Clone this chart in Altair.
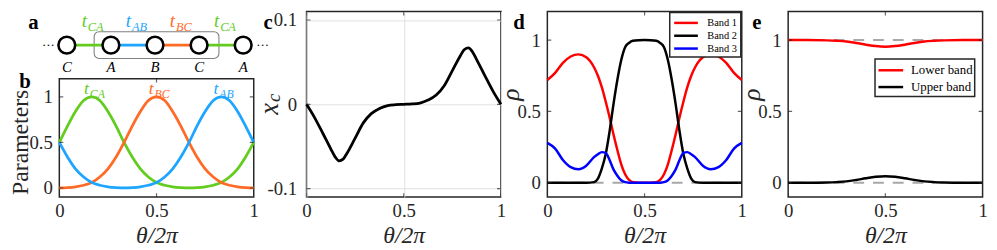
import altair as alt
import pandas as pd

SERIF = "Liberation Serif"
INK = "#262626"
GREEN = "#62CC1F"
BLUE = "#1DA5FF"
ORANGE = "#FF6A26"

# ---------------- (a) schematic chain ----------------
site_pos = [0, 1, 2, 3, 4]
site_names = ["C", "A", "B", "C", "A"]
bond_from = [0, 1, 2, 3]
bond_to = [1, 2, 3, 4]
bond_subs = ["CA", "AB", "BC", "CA"]
bond_colors = [GREEN, BLUE, ORANGE, GREEN]
ellipsis_pos = [-0.42, 4.44]
cell_x = [0.62, 3.45]
cell_y = [-0.75, 0.75]
row_bond_label = 1.0
row_site = 0.0
row_site_label = -1.25

# ---------------- (b) hopping parameters ----------------
theta_b = [0.0, 0.042, 0.083, 0.125, 0.167, 0.208, 0.25, 0.292, 0.333, 0.375, 0.417, 0.458,
           0.5, 0.542, 0.583, 0.625, 0.667, 0.708, 0.75, 0.792, 0.833, 0.875, 0.917, 0.958, 1.0]
t_CA = [0.50, 0.68, 0.84, 0.96, 1.00, 0.96, 0.84, 0.68, 0.50, 0.34, 0.21, 0.12, 0.06,
        0.03, 0.013, 0.005, 0.002, 0.005, 0.013, 0.03, 0.06, 0.12, 0.21, 0.34, 0.50]
t_BC = [0.002, 0.005, 0.013, 0.03, 0.06, 0.12, 0.21, 0.34, 0.50, 0.68, 0.84, 0.96, 1.00,
        0.96, 0.84, 0.68, 0.50, 0.34, 0.21, 0.12, 0.06, 0.03, 0.013, 0.005, 0.002]
t_AB = [0.50, 0.34, 0.21, 0.12, 0.06, 0.03, 0.013, 0.005, 0.002, 0.005, 0.013, 0.03, 0.06,
        0.12, 0.21, 0.34, 0.50, 0.68, 0.84, 0.96, 1.00, 0.96, 0.84, 0.68, 0.50]
peak_pos = [0.167, 0.5, 0.833]
peak_subs = ["CA", "BC", "AB"]
peak_colors = [GREEN, ORANGE, BLUE]
peak_label_y = 1.035

# ---------------- (c) x_c ----------------
theta_c = [0.0, 0.042, 0.083, 0.125, 0.146, 0.167, 0.188, 0.208, 0.25, 0.292, 0.333, 0.375,
           0.417, 0.458, 0.5, 0.542, 0.583, 0.625, 0.667, 0.708, 0.75, 0.792, 0.812, 0.833,
           0.854, 0.875, 0.917, 0.958, 1.0]
x_c = [0.0, -0.016, -0.034, -0.053, -0.062, -0.067, -0.065, -0.058, -0.040, -0.022, -0.011,
       -0.005, -0.0015, -0.0004, 0.0, 0.0004, 0.0015, 0.005, 0.011, 0.022, 0.040, 0.058, 0.065,
       0.067, 0.062, 0.053, 0.034, 0.016, 0.0]

# ---------------- (d) three bands ----------------
theta_d = [0.0, 0.04, 0.08, 0.12, 0.16, 0.20, 0.24, 0.26, 0.28, 0.30, 0.32, 0.34, 0.36, 0.38,
           0.40, 0.42, 0.44, 0.47, 0.50, 0.53, 0.56, 0.58, 0.60, 0.62, 0.64, 0.66, 0.68, 0.70,
           0.72, 0.74, 0.76, 0.80, 0.84, 0.88, 0.92, 0.96, 1.0]
band1 = [0.72, 0.77, 0.84, 0.885, 0.90, 0.88, 0.81, 0.75, 0.67, 0.57, 0.46, 0.34, 0.23, 0.13,
         0.06, 0.02, 0.005, 0.001, 0.0, 0.001, 0.005, 0.02, 0.06, 0.13, 0.23, 0.34, 0.46, 0.57,
         0.67, 0.75, 0.81, 0.88, 0.90, 0.885, 0.84, 0.77, 0.72]
band2 = [0.0, 0.0, 0.0, 0.0, 0.0, 0.0, 0.005, 0.03, 0.10, 0.20, 0.36, 0.55, 0.72, 0.86,
         0.95, 0.98, 0.995, 0.999, 1.0, 0.999, 0.995, 0.98, 0.95, 0.86, 0.72, 0.55, 0.36, 0.20,
         0.10, 0.03, 0.005, 0.0, 0.0, 0.0, 0.0, 0.0, 0.0]
band3 = [0.28, 0.24, 0.16, 0.11, 0.095, 0.12, 0.18, 0.20, 0.215, 0.21, 0.16, 0.094, 0.05, 0.018,
         0.005, 0.001, 0.0, 0.0, 0.0, 0.0, 0.0, 0.001, 0.005, 0.018, 0.05, 0.094, 0.16, 0.21,
         0.215, 0.20, 0.18, 0.12, 0.095, 0.11, 0.16, 0.24, 0.28]
band_names = ["Band 1", "Band 2", "Band 3"]
band_colors = ["#ff0000", "#000000", "#0000ff"]

# ---------------- (e) two bands ----------------
theta_e = [0.0, 0.1, 0.2, 0.25, 0.3, 0.35, 0.4, 0.45, 0.5, 0.55, 0.6, 0.65, 0.7, 0.75, 0.8, 0.9, 1.0]
lower = [1.0, 1.0, 0.998, 0.995, 0.99, 0.98, 0.968, 0.958, 0.954, 0.958, 0.968, 0.98, 0.99,
         0.995, 0.998, 1.0, 1.0]
upper = [0.0, 0.0, 0.002, 0.005, 0.01, 0.02, 0.032, 0.042, 0.046, 0.042, 0.032, 0.02, 0.01,
         0.005, 0.002, 0.0, 0.0]
e_names = ["Lower band", "Upper band"]
e_colors = ["#ff0000", "#000000"]
ref_d = [0.0]
ref_e = [0.0, 1.0]

# ---------------- layout constants ----------------
W = 197
H = 188
HA = 62
GAP_AB = 6
HB = H - HA - GAP_AB
YD = [-0.1, 1.2]
YC = [-0.11, 0.11]


def X(axis=alt.Undefined):
    return alt.X("x:Q", scale=alt.Scale(domain=[0, 1], nice=False, zero=False), axis=axis)


def Y(dom, axis=alt.Undefined):
    return alt.Y("y:Q", scale=alt.Scale(domain=dom, nice=False, zero=False), axis=axis)


def x_axis(grid=False):
    return alt.Axis(values=[0, 0.5, 1], labelExpr="toString(datum.value)", labelFlush=False,
                    title="θ/2π", titleFontStyle="italic", titleFontSize=24, titlePadding=3,
                    labelPadding=5, labelFontSize=19, ticks=False, domain=False,
                    grid=grid, gridColor="#e1e1e1", gridWidth=1)


def y_axis(values, title, tx, ty, style="italic", grid=False, pad=7, tsize=26):
    return alt.Axis(values=values, labelExpr="toString(datum.value)", title=title,
                    titleFontStyle=style, titleFontSize=tsize, titleX=tx, titleY=ty,
                    titleAngle=270, titleAlign="center", titleBaseline="middle",
                    labelPadding=pad, labelFontSize=19, ticks=False, domain=False, grid=grid,
                    gridColor="#e1e1e1")


def letter_axis(s, dx, dy):
    # panel letter: title of a label-less top axis, placed at the frame's top-left corner
    return alt.Axis(orient="top", labels=False, ticks=False, domain=False, grid=False, title=s,
                    titleX=dx, titleY=dy, titleAlign="left", titleBaseline="alphabetic",
                    titleAngle=0, titleFontSize=21, titleFontWeight="bold",
                    titleFontStyle="normal", titleColor="black")


def frame_ticks(dom, yvals, let_axis, yaxis_h=alt.Undefined, yaxis_v=alt.Undefined):
    hdf = pd.DataFrame({"x": [0.0] * len(yvals) + [1.0] * len(yvals), "y": list(yvals) * 2})
    vdf = pd.DataFrame({"x": [0.0, 0.5, 1.0] * 2, "y": [dom[0]] * 3 + [dom[1]] * 3})
    h = alt.Chart(hdf).mark_tick(orient="horizontal", size=8, thickness=1.2, color=INK,
                                 clip=True).encode(x=X(None), y=Y(dom, yaxis_h))
    v = alt.Chart(vdf).mark_tick(orient="vertical", size=8, thickness=1.2, color=INK,
                                 clip=True).encode(x=X(let_axis), y=Y(dom, yaxis_v))
    return [h, v]


FRAME = alt.ViewBackground(stroke=INK, strokeWidth=1.5)

# ---------------- panel a ----------------
AX = alt.Scale(domain=[-0.17, 4.24], nice=False, zero=False)
AY = alt.Scale(domain=[-1.556, 1.889], nice=False, zero=False)

cell_df = pd.DataFrame({"x": [cell_x[0]], "x2": [cell_x[1]], "y": [cell_y[0]], "y2": [cell_y[1]]})
bond_df = pd.DataFrame({"x": bond_from, "x2": bond_to, "y": [row_site] * 4, "col": bond_colors,
                        "mid": [(f + t) / 2 for f, t in zip(bond_from, bond_to)],
                        "ly": [row_bond_label] * 4, "main": ["t"] * 4, "sub": bond_subs})
site_df = pd.DataFrame({"x": site_pos, "y": [row_site] * 5, "name": site_names,
                        "ly": [row_site_label] * 5})
dots_df = pd.DataFrame({"x": ellipsis_pos, "y": [row_site] * 2, "label": ["···", "···"]})

a_cell = alt.Chart(cell_df).mark_rect(fill="white", fillOpacity=0, stroke="#808080",
                                      strokeWidth=1.1, cornerRadius=5).encode(
    x=alt.X("x:Q", scale=AX, axis=letter_axis("a", -32, 17)), x2="x2:Q",
    y=alt.Y("y:Q", scale=AY, axis=None), y2="y2:Q")
a_bonds = alt.Chart(bond_df).mark_rule(strokeWidth=3).encode(
    x=alt.X("x:Q", scale=AX, axis=None), x2="x2:Q",
    y=alt.Y("y:Q", scale=AY, axis=None), color=alt.Color("col:N", scale=None))
a_nodes = alt.Chart(site_df).mark_point(shape="circle", filled=True, fill="white", stroke="black",
                                        strokeWidth=2.6, size=289, opacity=1).encode(
    x=alt.X("x:Q", scale=AX, axis=None), y=alt.Y("y:Q", scale=AY, axis=None))
a_sites = alt.Chart(site_df).mark_text(font=SERIF, fontSize=15, fontStyle="italic",
                                       baseline="middle", color="black").encode(
    x=alt.X("x:Q", scale=AX, axis=None), y=alt.Y("ly:Q", scale=AY, axis=None), text="name:N")
a_dots = alt.Chart(dots_df).mark_text(font=SERIF, fontSize=13, baseline="middle",
                                      color="black").encode(
    x=alt.X("x:Q", scale=AX, axis=None), y=alt.Y("y:Q", scale=AY, axis=None), text="label:N")
a_t = alt.Chart(bond_df).mark_text(font=SERIF, fontSize=19, fontStyle="italic", align="right",
                                   baseline="alphabetic", dx=-2).encode(
    x=alt.X("mid:Q", scale=AX, axis=None), y=alt.Y("ly:Q", scale=AY, axis=None),
    text="main:N", color=alt.Color("col:N", scale=None))
a_sub = alt.Chart(bond_df).mark_text(font=SERIF, fontSize=12.5, fontStyle="italic", align="left",
                                     baseline="alphabetic", dx=-1, dy=4).encode(
    x=alt.X("mid:Q", scale=AX, axis=None), y=alt.Y("ly:Q", scale=AY, axis=None),
    text="sub:N", color=alt.Color("col:N", scale=None))

panel_a = alt.layer(a_cell, a_bonds, a_nodes, a_sites, a_dots, a_t, a_sub
                    ).resolve_axis(x="independent").properties(
    width=W, height=HA, view=alt.ViewBackground(stroke="transparent"))

# ---------------- panel b ----------------
nb = len(theta_b)
b_df = pd.DataFrame({"x": theta_b * 3, "y": t_CA + t_BC + t_AB,
                     "series": ["CA"] * nb + ["BC"] * nb + ["AB"] * nb,
                     "col": [GREEN] * nb + [ORANGE] * nb + [BLUE] * nb})
b_lab = pd.DataFrame({"x": peak_pos, "y": [peak_label_y] * 3, "main": ["t"] * 3,
                      "sub": peak_subs, "col": peak_colors})
b_lines = alt.Chart(b_df).mark_line(strokeWidth=2.8, interpolate="monotone").encode(
    x=X(x_axis()),
    y=Y(YD, y_axis([0, 0.5, 1], "Parameters", -39, HB / 2 + 4, style="normal", tsize=24)),
    color=alt.Color("col:N", scale=None), detail="series:N")
b_t = alt.Chart(b_lab).mark_text(font=SERIF, fontSize=18, fontStyle="italic", align="right",
                                 baseline="alphabetic", dx=-3).encode(
    x=X(None), y=Y(YD), text="main:N", color=alt.Color("col:N", scale=None))
b_sub = alt.Chart(b_lab).mark_text(font=SERIF, fontSize=12, fontStyle="italic", align="left",
                                   baseline="alphabetic", dx=-2, dy=4).encode(
    x=X(None), y=Y(YD), text="sub:N", color=alt.Color("col:N", scale=None))
panel_b = alt.layer(b_lines, b_t, b_sub,
                    *frame_ticks(YD, [0, 0.5, 1], letter_axis("b", -41, 9))
                    ).resolve_axis(x="independent").properties(width=W, height=HB, view=FRAME)

# ---------------- panel c ----------------
c_df = pd.DataFrame({"x": theta_c, "y": x_c})
c_main_axis = y_axis([-0.1, 0, 0.1], "x", -37, H / 2 + 4, grid=True, pad=10, tsize=27)
c_sub_axis = alt.Axis(orient="left", title="c", titleFontStyle="italic", titleFontSize=19,
                      titleX=-33, titleY=H / 2 - 7, titleAngle=270, titleAlign="center",
                      titleBaseline="middle", labels=False, ticks=False, domain=False,
                      grid=False)
c_line = alt.Chart(c_df).mark_line(color="black", strokeWidth=2.8, interpolate="monotone").encode(
    x=X(x_axis(grid=True)), y=Y(YC, c_main_axis))
panel_c = alt.layer(c_line, *frame_ticks(YC, [-0.1, 0, 0.1], letter_axis("c", -44, 17),
                                         yaxis_h=c_sub_axis, yaxis_v=None)
                    ).resolve_axis(x="independent", y="independent").properties(
    width=W, height=H, view=FRAME)

# ---------------- panel d ----------------
nd = len(theta_d)
d_df = pd.DataFrame({"x": theta_d * 3, "y": band1 + band2 + band3,
                     "band": [band_names[0]] * nd + [band_names[1]] * nd + [band_names[2]] * nd})
d_ref = alt.Chart(pd.DataFrame({"y": ref_d})).mark_rule(
    color="#a8a8a8", strokeWidth=2, strokeDash=[11, 9]).encode(y=Y(YD))
d_lines = alt.Chart(d_df).mark_line(strokeWidth=2.5, interpolate="monotone").encode(
    x=X(x_axis()), y=Y(YD, y_axis([0, 0.5, 1], "ρ", -37, H * 0.445)),
    color=alt.Color("band:N", scale=alt.Scale(domain=band_names, range=band_colors),
                    legend=alt.Legend(title=None, orient="top-right", offset=1,
                                      symbolType="M-2,0H2", symbolSize=144,
                                      symbolStrokeWidth=2.5, symbolOffset=6, labelOffset=14,
                                      labelFont=SERIF, labelFontSize=10.5, labelColor="black",
                                      padding=3, rowPadding=0, fillColor="white",
                                      strokeColor=INK)))
panel_d = alt.layer(d_ref, d_lines, *frame_ticks(YD, [0, 0.5, 1], letter_axis("d", -35, 17))
                    ).resolve_axis(x="independent").properties(width=W, height=H, view=FRAME)

# ---------------- panel e ----------------
ne = len(theta_e)
e_df = pd.DataFrame({"x": theta_e * 2, "y": lower + upper,
                     "band": [e_names[0]] * ne + [e_names[1]] * ne})
e_ref = alt.Chart(pd.DataFrame({"y": ref_e})).mark_rule(
    color="#a8a8a8", strokeWidth=2, strokeDash=[11, 9]).encode(y=Y(YD))
e_lines = alt.Chart(e_df).mark_line(strokeWidth=2.5, interpolate="monotone").encode(
    x=X(x_axis()), y=Y(YD, y_axis([0, 0.5, 1], "ρ", -37, H * 0.445)),
    color=alt.Color("band:N", scale=alt.Scale(domain=e_names, range=e_colors),
                    legend=alt.Legend(title=None, orient="none", legendX=88, legendY=48,
                                      symbolType="M-1.5625,0H1.5625", symbolSize=256,
                                      symbolStrokeWidth=2.5, symbolOffset=4.5, labelOffset=11,
                                      labelFont=SERIF, labelFontSize=13, labelColor="black",
                                      padding=2, rowPadding=0, fillColor="white",
                                      strokeColor=INK)))
panel_e = alt.layer(e_ref, e_lines, *frame_ticks(YD, [0, 0.5, 1], letter_axis("e", -37, 17))
                    ).resolve_axis(x="independent").properties(width=W, height=H, view=FRAME)

# ---------------- assemble ----------------
col_ab = alt.vconcat(panel_a, panel_b, spacing=GAP_AB, bounds="flush")
right = alt.hconcat(panel_c, panel_d, panel_e, spacing=47, bounds="flush").resolve_scale(
    color="independent")
chart = alt.hconcat(col_ab, right, spacing=-14.5).resolve_scale(
    color="independent").properties(padding=0).configure(font=SERIF).configure_axis(
    labelFont=SERIF, titleFont=SERIF, labelColor=INK, titleColor=INK,
    titleFontWeight="normal").configure_legend(strokeWidth=1.5)

chart.save("out.html", embed_options={"renderer": "svg", "actions": False})
